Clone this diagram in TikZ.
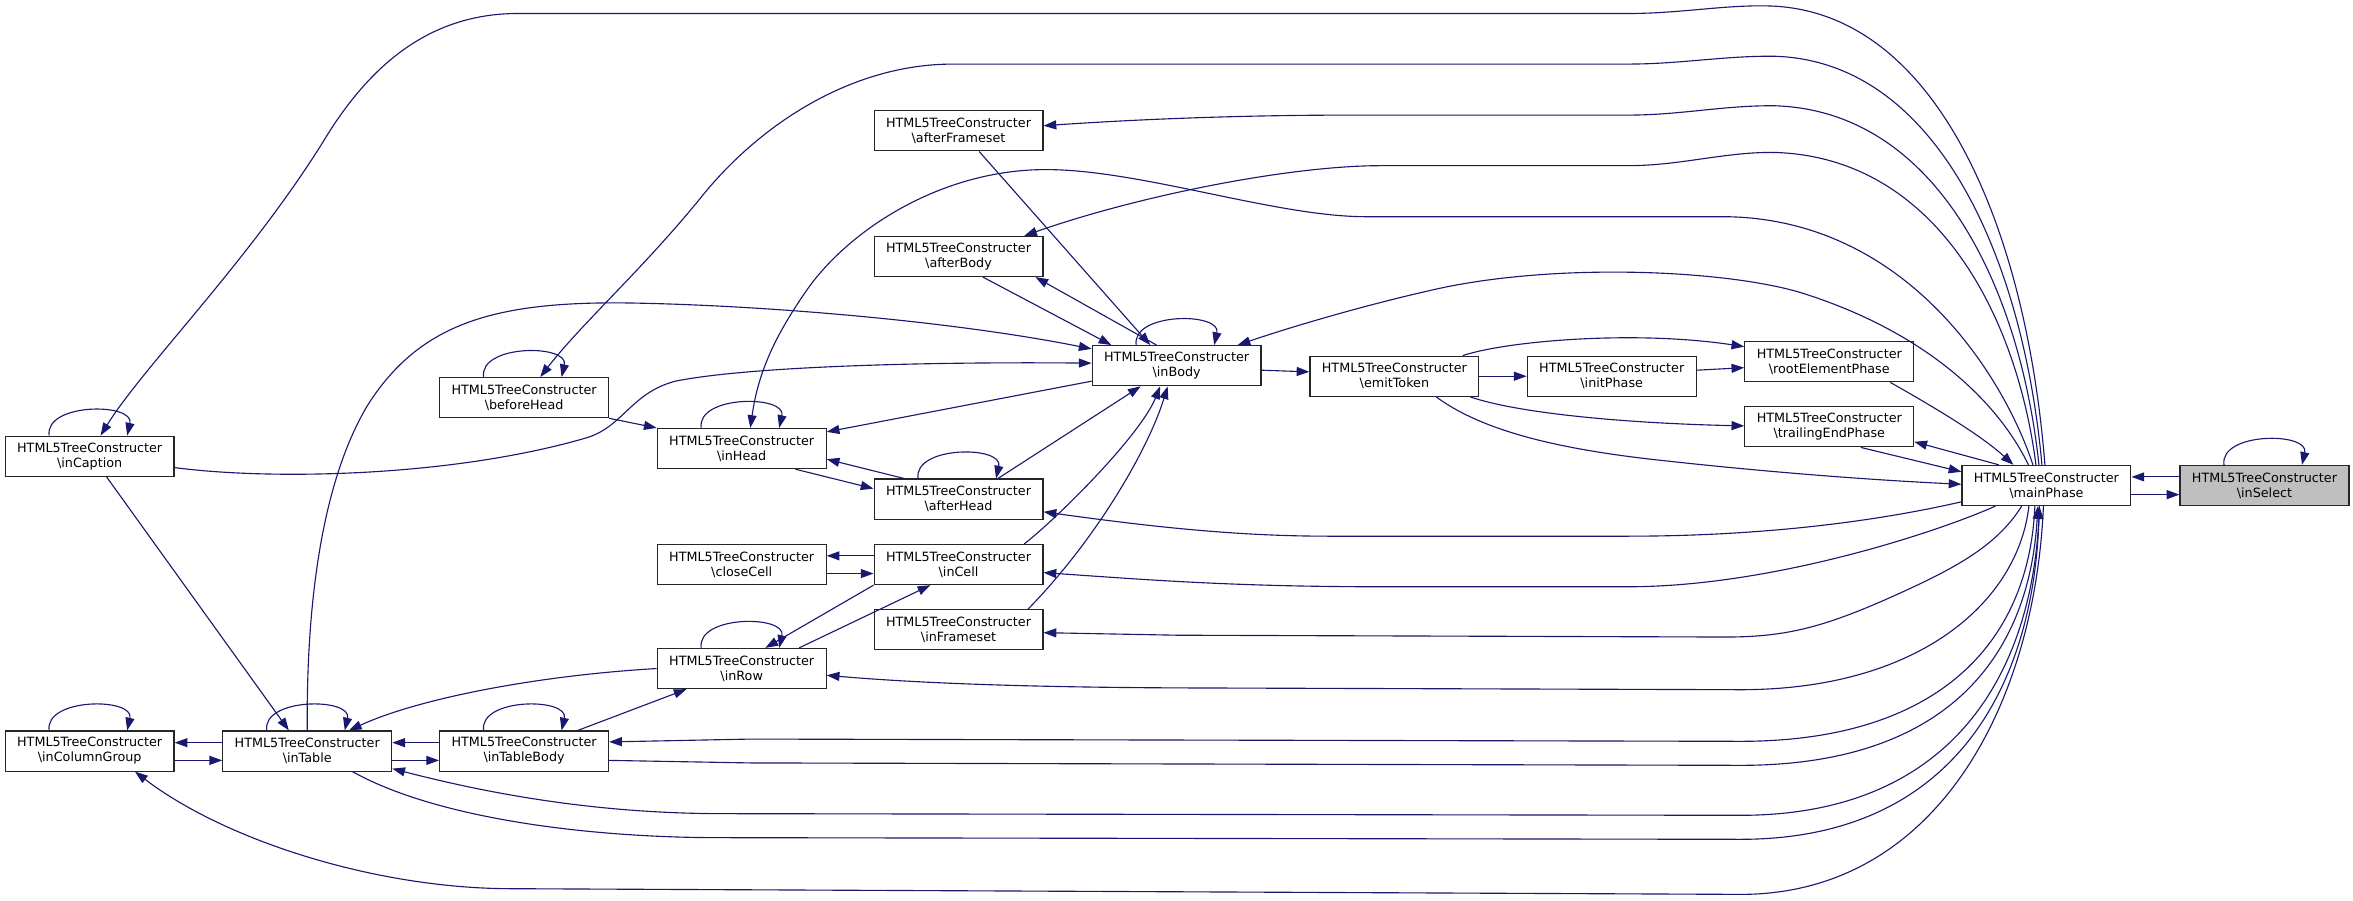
\documentclass[tikz,border=0pt]{standalone}
\usepackage{fontspec}
\newfontfamily\dejavu{DejaVu Sans}
\usetikzlibrary{arrows.meta}
\definecolor{edgeblue}{HTML}{191970}
\definecolor{selgray}{HTML}{BFBFBF}
\tikzset{
	func/.style={draw=black!85, fill=white, line width=0.8pt, minimum width=112.5pt, minimum height=26.7pt, inner sep=0pt, align=center, font=\dejavu\fontsize{8.5}{10}\selectfont},
	call/.style={draw=edgeblue, line width=0.75pt, -{Triangle[length=8.5pt,width=6pt]}},
}
\newcommand{\htc}[1]{HTML5TreeConstructer\\\textbackslash #1}
\begin{document}
\begin{tikzpicture}[x=1pt,y=-1pt]
		\useasboundingbox (0,0) rectangle (1568,600);
		
		\node[func] (inCaption) at (59.75,304) {\htc{inCaption}};
		\node[func] (inColumnGroup) at (59.75,500.5) {\htc{inColumnGroup}};
		\node[func] (inTable) at (204.75,500.5) {\htc{inTable}};
		\node[func] (inTableBody) at (349.25,500.5) {\htc{inTableBody}};
		\node[func] (beforeHead) at (349.25,265) {\htc{beforeHead}};
		\node[func] (inHead) at (494.25,298.9) {\htc{inHead}};
		\node[func] (closeCell) at (494.25,376.2) {\htc{closeCell}};
		\node[func] (inRow) at (494.25,445.5) {\htc{inRow}};
		\node[func] (afterFrameset) at (638.75,87.2) {\htc{afterFrameset}};
		\node[func] (afterBody) at (638.75,170.9) {\htc{afterBody}};
		\node[func] (afterHead) at (638.75,332.6) {\htc{afterHead}};
		\node[func] (inCell) at (638.75,376.2) {\htc{inCell}};
		\node[func] (inFrameset) at (638.75,419.7) {\htc{inFrameset}};
		\node[func] (inBody) at (784.1,243.7) {\htc{inBody}};
		\node[func] (emitToken) at (929.2,250.7) {\htc{emitToken}};
		\node[func] (initPhase) at (1074,250.7) {\htc{initPhase}};
		\node[func] (rootElementPhase) at (1219,241.1) {\htc{rootElementPhase}};
		\node[func] (trailingEndPhase) at (1219,284.4) {\htc{trailingEndPhase}};
		\node[func] (mainPhase) at (1363.7,323.5) {\htc{mainPhase}};
		\node[func, fill=selgray] (inSelect) at (1509,323.5) {\htc{inSelect}};
		
		% self calls
		\foreach \n in {inCaption,inColumnGroup,inTable,inTableBody,beforeHead,inHead,inRow,afterHead,inBody,inSelect}
			\draw[call] ([xshift=-27pt]\n.north) .. controls ([xshift=-30pt,yshift=22pt]\n.north) and ([xshift=30pt,yshift=22pt]\n.north) .. ([xshift=25pt]\n.north);
		
		% mainPhase over the top
		\draw[call] ([xshift=-1pt]mainPhase.north) .. controls (1350,150) and (1290,8) .. (1180,4) .. controls (1150,3) and (1120,9) .. (1085,9) -- (345,9) .. controls (285,9) and (245,45) .. (215,95) .. controls (165,175) and (95,245) .. ([xshift=7.25pt]inCaption.north);
		\draw[call] ([xshift=-3pt]mainPhase.north) .. controls (1348,170) and (1290,41) .. (1183,37.5) .. controls (1150,37) and (1120,42.7) .. (1085,42.7) -- (635,42.7) .. controls (570,42.7) and (510,80) .. (470,128) .. controls (430,178) and (388,215) .. ([xshift=10.75pt]beforeHead.north);
		\draw[call] ([xshift=-5pt]mainPhase.north) .. controls (1346,190) and (1290,74) .. (1183,70.5) .. controls (1150,70) and (1120,76.7) .. (1085,76.7) -- (900,76.7) .. controls (820,76.7) and (750,80) .. ([yshift=3.4pt]afterFrameset.east);
		\draw[call] ([xshift=-7pt]mainPhase.north) .. controls (1344,210) and (1290,105) .. (1183,101.6) .. controls (1150,101) and (1120,110.4) .. (1085,110.4) -- (920,110.4) .. controls (860,110.4) and (760,130) .. ([xshift=43.75pt]afterBody.north);
		\draw[call] ([xshift=-9pt]mainPhase.north) .. controls (1335,250) and (1270,146) .. (1150,144.4) -- (910,144.4) .. controls (850,144.4) and (760,113) .. (697,113) .. controls (630,113) and (570,150) .. (540,190) .. controls (515,225) and (505,250) .. ([xshift=5.75pt]inHead.north);
		\draw[call] ([xshift=-12pt]mainPhase.north) .. controls (1330,265) and (1280,220) .. (1200,195) .. controls (1150,180) and (1040,175) .. (960,192) .. controls (910,203) and (860,218) .. ([xshift=40.6pt]inBody.north);
		
		% mainPhase along the bottom
		\draw[call] ([yshift=-10.9pt]mainPhase.west) .. controls (1230,352) and (1150,357.3) .. (1085,357.3) -- (885,357.3) .. controls (820,357.3) and (760,350) .. ([yshift=-8.5pt]afterHead.east);
		\draw[call] ([xshift=-34pt]mainPhase.south) .. controls (1290,355) and (1180,391) .. (1085,391) -- (920,391) .. controls (820,391) and (760,386) .. ([yshift=-5.4pt]inCell.east);
		\draw[call] ([xshift=-16.5pt]mainPhase.south) .. controls (1330,365) and (1300,380) .. (1260,398) .. controls (1215,418) and (1190,424.5) .. (1150,424.5) -- (785,423.3) -- ([yshift=-1.9pt]inFrameset.east);
		\draw[call] ([xshift=-11.7pt]mainPhase.south) .. controls (1345,400) and (1280,459.6) .. (1160,459.6) -- (785,458.4) .. controls (700,458) and (620,456) .. ([yshift=-4.5pt]inRow.east);
		\draw[call] ([xshift=-7.7pt]mainPhase.south) .. controls (1352,430) and (1290,494) .. (1160,494) -- (500,492.5) -- ([yshift=6.1pt]inTableBody.east);
		\draw[call] ([yshift=-6.2pt]inTableBody.east) -- (500,508.4) -- (1160,510) .. controls (1295,510) and (1352,440) .. ([xshift=-5.7pt]mainPhase.south);
		\draw[call] ([xshift=-4.7pt]mainPhase.south) .. controls (1356,450) and (1300,543.3) .. (1160,543.3) -- (480,542.2) .. controls (400,542) and (330,530) .. ([yshift=-11.7pt]inTable.east);
		\draw[call] ([xshift=30.25pt]inTable.south) .. controls (290,545) and (390,558.2) .. (480,558.2) -- (1160,559.3) .. controls (1300,559.3) and (1355,460) .. ([xshift=-4.7pt]mainPhase.south);
		\draw[call] ([xshift=-2pt]mainPhase.south) .. controls (1356,470) and (1290,596) .. (1160,596) -- (340,592.2) .. controls (250,592) and (150,560) .. ([xshift=30.25pt]inColumnGroup.south);
		
		% right hand side
		\draw[call] ([yshift=5.7pt]inSelect.west) -- ([yshift=5.7pt]mainPhase.east);
		\draw[call] ([yshift=-6.1pt]mainPhase.east) -- ([yshift=-6.1pt]inSelect.west);
		\draw[call] ([yshift=-3pt]inBody.east) -- ([yshift=2.9pt]emitToken.west);
		\draw[call] (emitToken.east) -- (initPhase.west);
		\draw[call] ([yshift=4pt]initPhase.east) -- ([yshift=-3.9pt]rootElementPhase.west);
		\draw[call] ([xshift=45.5pt]emitToken.north) .. controls (1005,227) and (1090,220) .. ([yshift=10.1pt]rootElementPhase.west);
		\draw[call] ([xshift=50.5pt]emitToken.south) .. controls (1010,275) and (1080,282) .. ([yshift=0.6pt]trailingEndPhase.west);
		\draw[call] ([xshift=27.8pt]emitToken.south) .. controls (985,285) and (1030,298) .. (1100,306) .. controls (1180,315) and (1250,320) .. ([yshift=0.8pt]mainPhase.west);
		\draw[call] ([xshift=40.7pt]rootElementPhase.south) .. controls (1290,272) and (1320,290) .. ([xshift=-22pt]mainPhase.north);
		\draw[call] ([xshift=-31.7pt]mainPhase.north) -- ([yshift=-10pt]trailingEndPhase.east);
		\draw[call] ([xshift=21pt]trailingEndPhase.south) -- ([yshift=9.1pt]mainPhase.west);
		
		% around inBody
		\draw[call] ([xshift=13.75pt]afterFrameset.south) -- ([xshift=-17.6pt]inBody.north);
		\draw[call] ([xshift=16.25pt]afterBody.south) -- ([xshift=-43.5pt]inBody.north);
		\draw[call] ([xshift=-13.4pt]inBody.north) -- ([xshift=51.25pt]afterBody.south);
		\draw[call] ([yshift=-10.3pt]inBody.west) -- ([yshift=11.1pt]inHead.east);
		\draw[call] ([xshift=26.25pt]afterHead.north) -- ([xshift=-24pt]inBody.south);
		\draw[call] ([xshift=43.75pt]inCell.north) .. controls (705,345) and (760,290) .. ([xshift=-11pt]inBody.south);
		\draw[call] ([xshift=46.25pt]inFrameset.north) .. controls (730,360) and (765,300) .. ([xshift=-6pt]inBody.south);
		\draw[call] (inTable.north) .. controls (204,400) and (215,320) .. (245,270) .. controls (280,215) and (330,200) .. (425,202) .. controls (520,204) and (640,215) .. ([yshift=11.2pt]inBody.west);
		\draw[call] ([yshift=-7.6pt]inCaption.east) .. controls (180,320) and (300,318) .. (390,292) .. controls (415,285) and (420,262) .. (450,254) .. controls (500,244) and (620,241) .. ([yshift=1.7pt]inBody.west);
		
		% left hand side
		\draw[call] (beforeHead.south east) -- (inHead.north west);
		\draw[call] ([xshift=35.75pt]inHead.south) -- ([yshift=7pt]afterHead.west);
		\draw[call] ([xshift=-36.25pt]afterHead.north) -- ([yshift=-7.1pt]inHead.east);
		\draw[call] ([yshift=5.8pt]inCell.west) -- ([yshift=5.8pt]closeCell.east);
		\draw[call] ([yshift=-6pt]closeCell.east) -- ([yshift=-6pt]inCell.west);
		\draw[call] (inCell.south west) -- ([xshift=15.75pt]inRow.north);
		\draw[call] ([xshift=38.25pt]inRow.north) -- ([xshift=-18.75pt]inCell.south);
		\draw[call] (inRow.west) .. controls (360,450) and (280,465) .. ([xshift=27.75pt]inTable.north);
		\draw[call] ([xshift=35.75pt]inTableBody.north) -- ([xshift=-36.75pt]inRow.south);
		\draw[call] ([xshift=11.25pt]inCaption.south) -- ([xshift=-12.25pt]inTable.north);
		\draw[call] ([yshift=5.6pt]inTableBody.west) -- ([yshift=5.6pt]inTable.east);
		\draw[call] ([yshift=-6.2pt]inTable.east) -- ([yshift=-6.2pt]inTableBody.west);
		\draw[call] ([yshift=5.6pt]inTable.west) -- ([yshift=5.6pt]inColumnGroup.east);
		\draw[call] ([yshift=-6.2pt]inColumnGroup.east) -- ([yshift=-6.2pt]inTable.west);
	\end{tikzpicture}
\end{document}
